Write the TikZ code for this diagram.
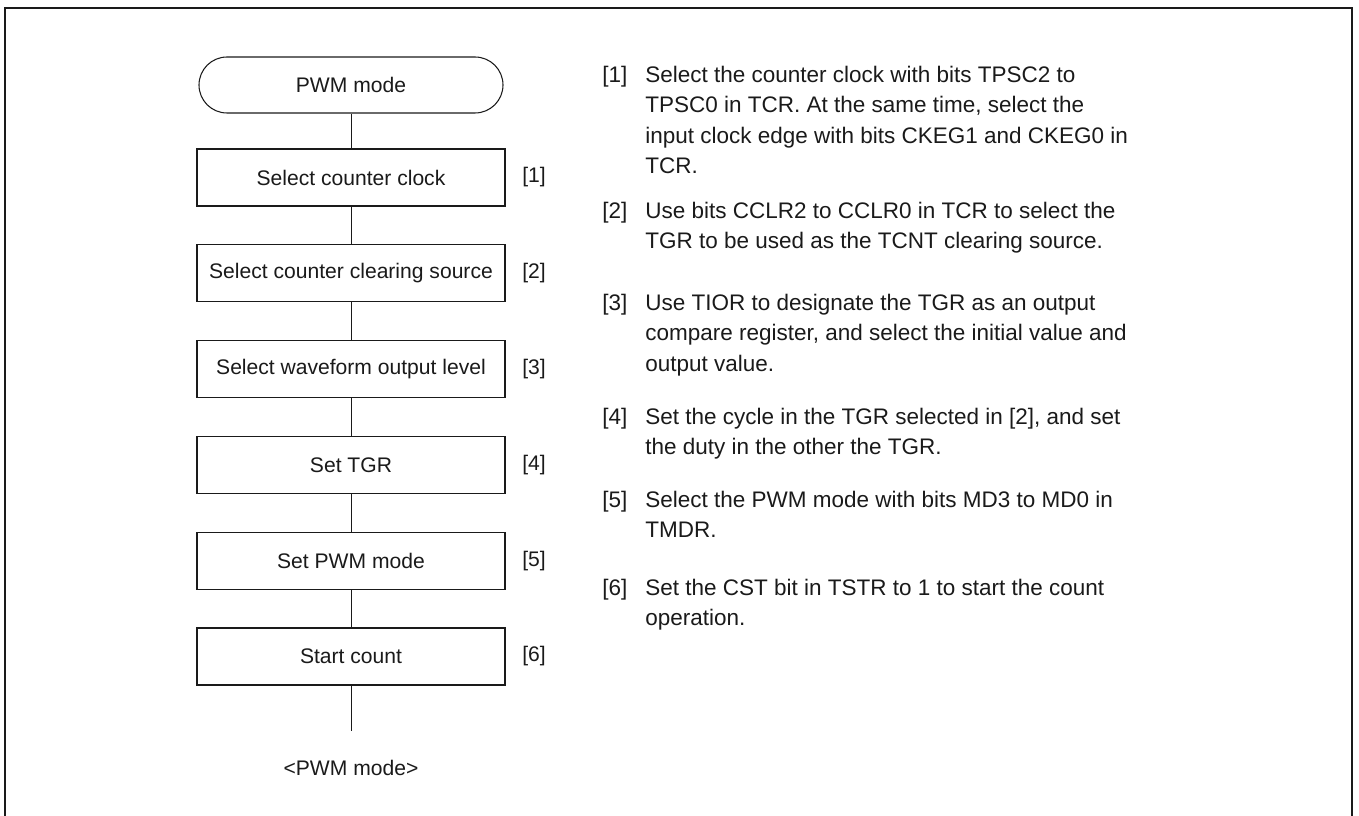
\documentclass[tikz,border=0pt]{standalone}
\usepackage{fontspec}
\setmainfont{Liberation Sans}
\usetikzlibrary{positioning, calc}
\definecolor{inkblack}{HTML}{1A1A1A}

\begin{document}
\begin{tikzpicture}[
    every node/.style={text=inkblack, font=\fontsize{12pt}{17.4pt}\selectfont},
    procbox/.style={draw=inkblack, line width=0.6pt, minimum width=6.16cm,
                    minimum height=1.14cm, inner sep=0pt},
    termbox/.style={draw=inkblack, line width=0.6pt, minimum width=6.08cm,
                    minimum height=1.12cm, rounded corners=0.56cm, inner sep=0pt},
    flowline/.style={draw=inkblack, line width=0.5pt},
    steptag/.style={anchor=west, inner sep=0pt},
    itemtxt/.style={anchor=base west, align=left, inner sep=0pt,
                    font=\fontsize{12.8pt}{17.36pt}\selectfont},
  ]

  \useasboundingbox (0,0) rectangle (27.18,-16.32);

  % Frame (open at the bottom)
  \draw[inkblack, line width=0.8pt] (0.1,-16.32) -- (0.1,-0.16) -- (27.04,-0.16) -- (27.04,-16.32);

  % === Flowchart ===
  \def\cx{7.02}
  \def\pitch{1.916}

  \node[termbox] (term) at (\cx,-1.70) {PWM mode};

  \foreach \lbl [count=\i] in {Select counter clock, Select counter clearing source,
      Select waveform output level, Set TGR, Set PWM mode, Start count} {
    \pgfmathsetmacro{\y}{-3.55 - (\i-1)*\pitch}
    \node[procbox] (box\i) at (\cx,\y) {\lbl};
    \node[steptag] (tag\i) at (10.44,\y) {[\i]};
  }

  % Connectors
  \draw[flowline] (term) -- (box1);
  \foreach \i in {2,...,6} {
    \pgfmathtruncatemacro{\j}{\i-1}
    \draw[flowline] (box\j) -- (box\i);
  }
  \coordinate (flowend) at (\cx,-14.62);
  \draw[flowline] (box6) -- (flowend);

  \node (caption) at (\cx,-15.36) {<PWM mode>};

  % === Step notes ===
  % \yy = first baseline, \nl = number of lines (base anchor sits on the last one)
  \def\lskip{0.61}
  \foreach \n/\yy/\nl/\txt in {
      1/-1.65/4/{Select the counter clock with bits TPSC2 to\\TPSC0 in TCR. At the same time, select the\\input clock edge with bits CKEG1 and CKEG0 in\\TCR.},
      2/-4.37/2/{Use bits CCLR2 to CCLR0 in TCR to select the\\TGR to be used as the TCNT clearing source.},
      3/-6.21/3/{Use TIOR to designate the TGR as an output\\compare register, and select the initial value and\\output value.},
      4/-8.49/2/{Set the cycle in the TGR selected in [2], and set\\the duty in the other the TGR.},
      5/-10.15/2/{Select the PWM mode with bits MD3 to MD0 in\\TMDR.},
      6/-11.91/2/{Set the CST bit in TSTR to 1 to start the count\\operation.}} {
    \pgfmathsetmacro{\yl}{\yy - (\nl-1)*\lskip}
    \node[itemtxt] (num\n) at (12.04,\yy) {[\n]};
    \node[itemtxt] (note\n) at (12.9,\yl) {\txt};
  }

\end{tikzpicture}
\end{document}
